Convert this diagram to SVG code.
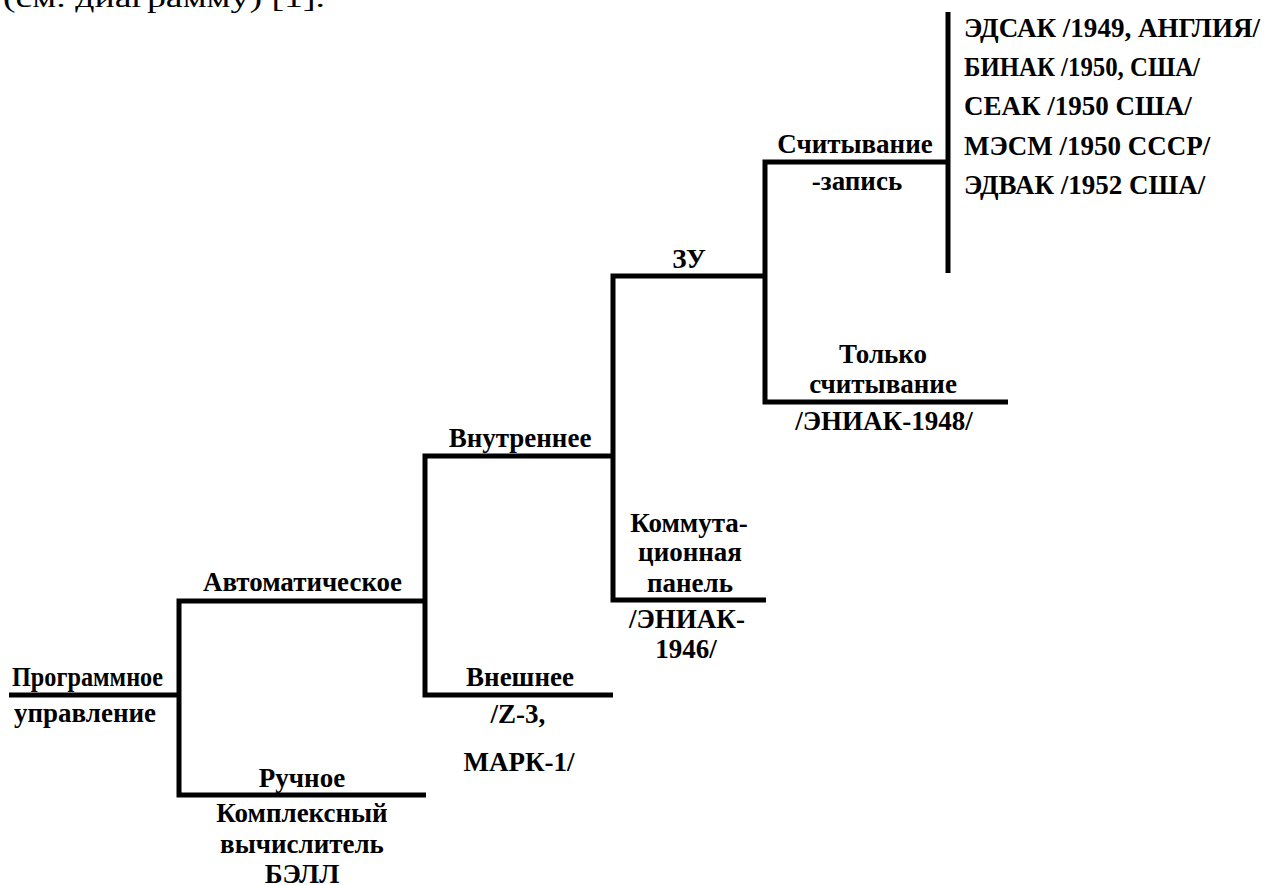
<svg xmlns="http://www.w3.org/2000/svg" width="1266" height="885" viewBox="0 0 1266 885">
<style>
.c{fill:none;stroke:#000;stroke-width:5;stroke-linejoin:miter;stroke-linecap:butt}
</style>
<rect width="1266" height="885" fill="#fff"/>
<text x="3" y="7" font-family="Liberation Serif, serif" font-size="27" textLength="322" lengthAdjust="spacingAndGlyphs">(см. диаграмму) [1].</text>
<g id="connectors">
<path class="c" d="M9 695 H179"/>
<path class="c" d="M425 601 H179 V795 H426"/>
<path class="c" d="M613 456 H425 V695 H613"/>
<path class="c" d="M765 276 H613 V600 H766"/>
<path class="c" d="M948 162 H765 V402 H1008"/>
<path class="c" d="M948 12 V273"/>
</g>
<g font-family="Liberation Serif, serif" font-size="27" font-weight="bold" fill="#000" text-anchor="middle">
<g id="root"><text x="12" y="686" text-anchor="start" textLength="151" lengthAdjust="spacingAndGlyphs">Программное</text><text x="85" y="722">управление</text></g>
<g id="auto"><text x="203" y="591" text-anchor="start" textLength="199" lengthAdjust="spacingAndGlyphs">Автоматическое</text></g>
<g id="manual"><text x="302" y="787">Ручное</text><text x="302" y="822">Комплексный</text><text x="302" y="853">вычислитель</text><text x="302" y="883">БЭЛЛ</text></g>
<g id="internal"><text x="520" y="447">Внутреннее</text></g>
<g id="external"><text x="520" y="686">Внешнее</text><text x="518" y="723">/Z-3,</text><text x="519" y="771">МАРК-1/</text></g>
<g id="panel"><text x="689" y="532">Коммута-</text><text x="690" y="561">ционная</text><text x="690" y="592">панель</text><text x="687" y="628">/ЭНИАК-</text><text x="686" y="658">1946/</text></g>
<g id="memory"><text x="689" y="268">ЗУ</text></g>
<g id="readonly"><text x="883" y="363">Только</text><text x="883" y="393">считывание</text><text x="884" y="430">/ЭНИАК-1948/</text></g>
<g id="readwrite"><text x="855" y="153">Считывание</text><text x="857" y="190">-запись</text></g>
<g id="machines" text-anchor="start">
<text x="964" y="37" textLength="296" lengthAdjust="spacingAndGlyphs">ЭДСАК /1949, АНГЛИЯ/</text>
<text x="964" y="76" textLength="236" lengthAdjust="spacingAndGlyphs">БИНАК /1950, США/</text>
<text x="964" y="115">СЕАК /1950 США/</text>
<text x="964" y="155">МЭСМ /1950 СССР/</text>
<text x="964" y="194">ЭДВАК /1952 США/</text>
</g>
</g>
</svg>
